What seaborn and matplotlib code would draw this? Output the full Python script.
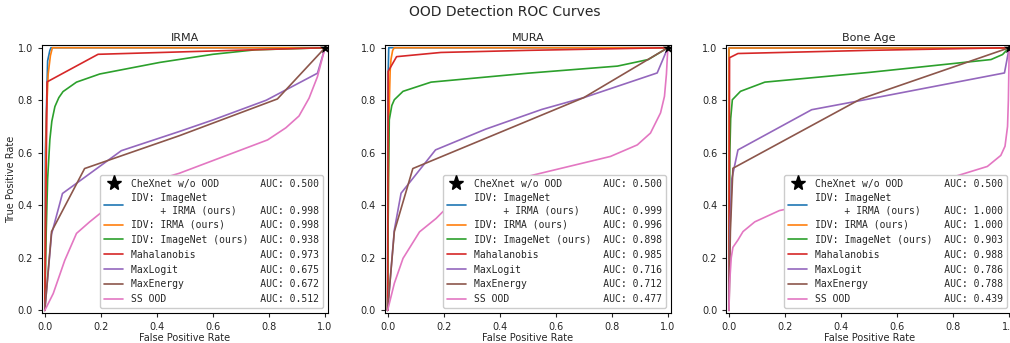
import matplotlib
matplotlib.use("Agg")
import matplotlib.pyplot as plt
import seaborn as sns

sns.set_style("ticks")
plt.rcParams['font.family'] = ['DejaVu Sans']

datasets = ["IRMA", "MURA", "Bone Age"]
methods = ["IDV: ImageNet\n     + IRMA (ours)", "IDV: IRMA (ours)", "IDV: ImageNet (ours)",
           "Mahalanobis", "MaxLogit", "MaxEnergy", "SS OOD"]
baseline_name = "CheXnet w/o OOD"
baseline_fpr = [1.0]
baseline_tpr = [1.0]
baseline_auc = [0.500, 0.500, 0.500]

auc = {
    "IRMA":     [0.998, 0.998, 0.938, 0.973, 0.675, 0.672, 0.512],
    "MURA":     [0.999, 0.996, 0.898, 0.985, 0.716, 0.712, 0.477],
    "Bone Age": [1.000, 1.000, 0.903, 0.988, 0.786, 0.788, 0.439],
}

# ---------------- IRMA ----------------
irma_fpr = [
    [0, 0.002, 0.01, 0.018, 0.022, 1],
    [0, 0.003, 0.006, 0.012, 0.02, 0.027, 1],
    [0, 0.005, 0.01, 0.018, 0.025, 0.036, 0.05, 0.065, 0.113, 0.196, 0.41, 0.6, 0.75, 1],
    [0, 0.008, 0.19, 1],
    [0, 0.024, 0.063, 0.273, 0.48, 0.6, 0.79, 0.973, 1],
    [0, 0.024, 0.142, 0.48, 0.83, 1],
    [0, 0.03, 0.071, 0.113, 0.16, 0.21, 0.3, 0.41, 0.48, 0.795, 0.86, 0.907, 0.943, 0.973, 1],
]
irma_tpr = [
    [0, 0.6, 0.95, 0.99, 1.0, 1],
    [0, 0.5, 0.75, 0.9, 0.97, 1.0, 1],
    [0, 0.3, 0.5, 0.65, 0.72, 0.776, 0.81, 0.833, 0.869, 0.9, 0.944, 0.975, 0.992, 1],
    [0, 0.87, 0.975, 1],
    [0, 0.29, 0.445, 0.608, 0.681, 0.725, 0.80, 0.903, 1],
    [0, 0.3, 0.54, 0.665, 0.805, 1],
    [0, 0.064, 0.19, 0.293, 0.337, 0.38, 0.445, 0.50, 0.522, 0.649, 0.695, 0.74, 0.808, 0.89, 1],
]

# ---------------- MURA ----------------
mura_fpr = [
    [0, 0.002, 0.004, 1],
    [0, 0.004, 0.009, 0.012, 0.018, 0.024, 1],
    [0, 0.003, 0.006, 0.015, 0.024, 0.055, 0.155, 0.5, 0.82, 0.93, 1],
    [0, 0.002, 0.032, 0.19, 0.5, 1],
    [0, 0.024, 0.048, 0.171, 0.35, 0.55, 0.7, 0.962, 1],
    [0, 0.024, 0.09, 0.7, 1],
    [0, 0.024, 0.055, 0.114, 0.173, 0.203, 0.3, 0.43, 0.472, 0.795, 0.891, 0.938, 0.974, 0.988, 0.995, 1],
]
mura_tpr = [
    [0, 0.9, 1.0, 1],
    [0, 0.7, 0.91, 0.955, 0.99, 1.0, 1],
    [0, 0.5, 0.726, 0.78, 0.802, 0.834, 0.869, 0.903, 0.93, 0.955, 1],
    [0, 0.91, 0.966, 0.982, 0.99, 1],
    [0, 0.306, 0.446, 0.611, 0.69, 0.765, 0.81, 0.904, 1],
    [0, 0.3, 0.54, 0.81, 1],
    [0, 0.103, 0.198, 0.299, 0.35, 0.382, 0.43, 0.49, 0.503, 0.586, 0.63, 0.675, 0.752, 0.815, 0.9, 1],
]

# ---------------- Bone Age ----------------
bone_fpr = [
    [0, 0, 1],
    [0, 0, 1],
    [0, 0.003, 0.006, 0.012, 0.041, 0.128, 0.5, 0.935, 0.976, 1],
    [0, 0.002, 0.032, 0.5, 1],
    [0, 0.003, 0.01, 0.032, 0.295, 0.5, 0.983, 1],
    [0, 0.005, 0.014, 0.47, 1],
    [0, 0.002, 0.008, 0.014, 0.032, 0.05, 0.092, 0.18, 0.5, 0.767, 0.922, 0.97, 0.985, 0.994, 0.997, 1],
]
bone_tpr = [
    [0, 1, 1],
    [0, 1, 1],
    [0, 0.6, 0.73, 0.802, 0.834, 0.869, 0.906, 0.955, 0.974, 1],
    [0, 0.962, 0.978, 0.99, 1],
    [0, 0.3, 0.5, 0.611, 0.764, 0.805, 0.904, 1],
    [0, 0.3, 0.541, 0.805, 1],
    [0, 0.1, 0.2, 0.24, 0.268, 0.3, 0.337, 0.38, 0.45, 0.497, 0.548, 0.59, 0.625, 0.7, 0.8, 1],
]

curves = {"IRMA": (irma_fpr, irma_tpr), "MURA": (mura_fpr, mura_tpr), "Bone Age": (bone_fpr, bone_tpr)}
colors = sns.color_palette("tab10")[:7]

fig = plt.figure(figsize=(10.1, 3.43), dpi=100)
lefts = [0.0416, 0.381, 0.719]
axes = [fig.add_axes([l, 0.0875, 0.283, 0.781]) for l in lefts]

mono = {'family': 'DejaVu Sans Mono', 'size': 7}

for i, (ax, name) in enumerate(zip(axes, datasets)):
    fprs, tprs = curves[name]
    handles = []
    labels = []
    sc = sns.scatterplot(x=baseline_fpr, y=baseline_tpr, marker='*', s=70, color='black',
                         edgecolor='black', linewidth=0, ax=ax, zorder=4, clip_on=True)
    h_star = plt.Line2D([], [], marker='*', color='black', ls='', ms=11)
    handles.append(h_star)
    labels.append(f"{baseline_name:<22}AUC: {baseline_auc[i]:.3f}")
    for j, m in enumerate(methods):
        sns.lineplot(x=fprs[j], y=tprs[j], ax=ax, color=colors[j], lw=1.2,
                     sort=False, estimator=None)
        h = plt.Line2D([], [], color=colors[j], lw=1.2)
        handles.append(h)
        last = m.split("\n")[-1]
        pad = 22 - len(last)
        labels.append(m + " " * pad + f"AUC: {auc[name][j]:.3f}")
    ax.set_xlim(-0.01, 1.01)
    ax.set_ylim(-0.01, 1.01)
    ax.set_xticks([0, 0.2, 0.4, 0.6, 0.8, 1.0])
    ax.set_yticks([0, 0.2, 0.4, 0.6, 0.8, 1.0])
    ax.tick_params(labelsize=7, length=3, width=0.8)
    ax.tick_params(axis='x', pad=3.5)
    ax.set_title(name, fontsize=8, pad=3)
    ax.set_xlabel("False Positive Rate", fontsize=7, labelpad=0.5)
    if i == 0:
        ax.set_ylabel("True Positive Rate", fontsize=7, labelpad=1)
    else:
        ax.set_ylabel("")
    for sp in ax.spines.values():
        sp.set_visible(True)
        sp.set_color('black')
        sp.set_linewidth(0.8)
    ax.legend(handles, labels, loc='lower right', prop=mono, frameon=True,
              fancybox=True, framealpha=1.0, edgecolor='0.8')

fig.suptitle("OOD Detection ROC Curves", fontsize=10, y=0.985)
fig.savefig("out.png", dpi=100)
